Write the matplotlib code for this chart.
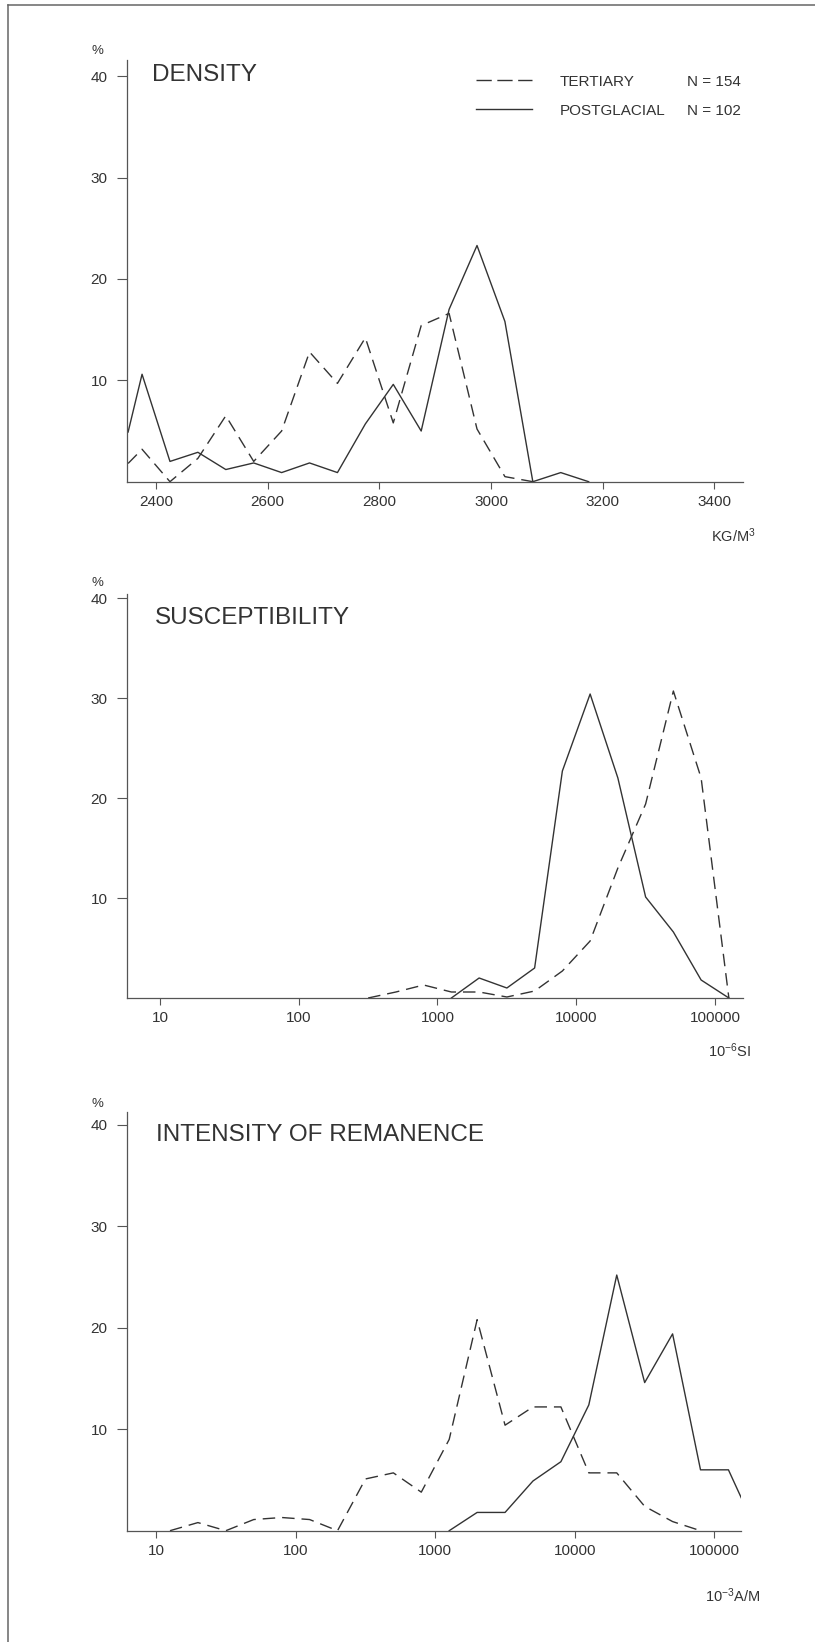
import matplotlib
matplotlib.use("Agg")
import matplotlib.pyplot as plt
from matplotlib.lines import Line2D
from matplotlib.ticker import NullLocator, FixedLocator, FixedFormatter
import numpy as np

plt.rcParams["font.family"] = ["Liberation Sans", "DejaVu Sans"]
plt.rcParams["mathtext.fontset"] = "custom"
plt.rcParams["mathtext.rm"] = "Liberation Sans"
plt.rcParams["mathtext.it"] = "Liberation Sans:italic"
plt.rcParams["mathtext.bf"] = "Liberation Sans:bold"
plt.rcParams["lines.scale_dashes"] = False

# ---------------- data ----------------
# Density (kg/m^3), class midpoints and percentages
dens_x_tert = [2350, 2375, 2425, 2475, 2525, 2575, 2625, 2675, 2725, 2775,
               2825, 2875, 2925, 2975, 3025, 3075]
dens_tert = [1.8, 3.2, 0.0, 2.3, 6.5, 2.0, 5.0, 12.8, 9.7, 14.2,
             5.8, 15.4, 16.6, 5.2, 0.5, 0.0]
dens_x_post = [2350, 2375, 2425, 2475, 2525, 2575, 2625, 2675, 2725, 2775,
               2825, 2875, 2925, 2975, 3025, 3075, 3125, 3175]
dens_post = [4.9, 10.6, 2.0, 2.9, 1.2, 1.85, 0.9, 1.85, 0.9, 5.7,
             9.6, 5.0, 17.0, 23.3, 15.8, 0.0, 0.9, 0.0]

# Susceptibility (1e-6 SI), log10 class midpoints and percentages
sus_log_tert = [2.5, 2.7, 2.9, 3.1, 3.3, 3.5, 3.7, 3.9, 4.1, 4.3, 4.5, 4.7, 4.9, 5.1]
sus_tert = [0.0, 0.6, 1.3, 0.6, 0.6, 0.1, 0.7, 2.7, 5.7, 13.0, 19.4, 30.7, 22.0, 0.0]
sus_log_post = [3.1, 3.3, 3.5, 3.7, 3.9, 4.1, 4.3, 4.5, 4.7, 4.9, 5.1]
sus_post = [0.0, 2.0, 1.0, 3.0, 22.7, 30.4, 22.0, 10.1, 6.6, 1.8, 0.0]

# Intensity of remanence (1e-3 A/m), log10 class midpoints and percentages
rem_log_tert = [1.1, 1.3, 1.5, 1.7, 1.9, 2.1, 2.3, 2.5, 2.7, 2.9,
                3.1, 3.3, 3.5, 3.7, 3.9, 4.1, 4.3, 4.5, 4.7, 4.9]
rem_tert = [0.0, 0.8, 0.0, 1.1, 1.3, 1.1, 0.0, 5.1, 5.7, 3.8,
            9.0, 20.8, 10.4, 12.2, 12.2, 5.7, 5.7, 2.4, 0.9, 0.0]
rem_log_post = [3.1, 3.3, 3.5, 3.7, 3.9, 4.1, 4.3, 4.5, 4.7, 4.9, 5.1, 5.3]
rem_post = [0.0, 1.8, 1.8, 4.9, 6.8, 12.4, 25.2, 14.6, 19.4, 6.0, 6.0, 0.0]

y_ticks = [10, 20, 30, 40]
dens_ticks = [2400, 2600, 2800, 3000, 3200, 3400]
log_ticks = [10, 100, 1000, 10000, 100000]
log_tick_labels = ["10", "100", "1000", "10000", "100000"]

series_names = ["TERTIARY", "POSTGLACIAL"]
series_n = ["N = 154", "N = 102"]

# ---------------- layout ----------------
W, H = 815, 1642
fig = plt.figure(figsize=(W / 100, H / 100), dpi=100)

INK = "#333333"
AXC = "#555555"
DASH = (9, 5)


def fx(x):
    return x / W


def fy(y):
    return 1 - y / H


def make_axes(left, right, top, bottom):
    ax = fig.add_axes([fx(left), fy(bottom), (right - left) / W, (bottom - top) / H])
    for s in ("top", "right"):
        ax.spines[s].set_visible(False)
    for s in ("left", "bottom"):
        ax.spines[s].set_color(AXC)
        ax.spines[s].set_linewidth(0.9)
    ax.set_facecolor("none")
    ax.yaxis.set_major_locator(FixedLocator(y_ticks))
    ax.tick_params(axis="y", direction="out", length=7.2, width=0.8, pad=6.5,
                   colors=AXC, labelcolor=INK, labelsize=11)
    ax.tick_params(axis="x", direction="out", length=5, width=0.8, pad=4.3,
                   colors=AXC, labelcolor=INK, labelsize=11)
    return ax


def draw_series(ax, xt, yt, xp, yp):
    ax.plot(xt, yt, color=INK, lw=1.0, linestyle=(0, DASH))
    ax.plot(xp, yp, color=INK, lw=1.0, linestyle="-")


# Panel 1: density
ax1 = make_axes(126.7, 743.3, 60, 481.7)
draw_series(ax1, dens_x_tert, dens_tert, dens_x_post, dens_post)
ax1.set_xlim(2347.5, 3452)
ax1.set_ylim(0, 41.6)
ax1.set_xticks(dens_ticks)
ax1.set_xticklabels([str(t) for t in dens_ticks])

# Panel 2: susceptibility
ax2 = make_axes(126.7, 743.3, 594, 998)
draw_series(ax2, 10 ** np.array(sus_log_tert), sus_tert,
            10 ** np.array(sus_log_post), sus_post)
ax2.set_xscale("log")
ax2.set_xlim(10 ** 0.76, 10 ** 5.204)
ax2.set_ylim(0, 40.4)

# Panel 3: remanence
ax3 = make_axes(126.7, 741, 1111.7, 1530.7)
draw_series(ax3, 10 ** np.array(rem_log_tert), rem_tert,
            10 ** np.array(rem_log_post), rem_post)
ax3.set_xscale("log")
ax3.set_xlim(10 ** 0.79, 10 ** 5.19)
ax3.set_ylim(0, 41.3)

for ax in (ax2, ax3):
    ax.xaxis.set_major_locator(FixedLocator(log_ticks))
    ax.xaxis.set_major_formatter(FixedFormatter(log_tick_labels))
    ax.xaxis.set_minor_locator(NullLocator())

for ax in (ax1, ax2, ax3):
    ax.yaxis.set_minor_locator(NullLocator())

# Panel titles
fig.text(fx(152.0), fy(80.7), "DENSITY", fontsize=17.5, color=INK, va="baseline")
fig.text(fx(154.5), fy(624.0), "SUSCEPTIBILITY", fontsize=17.5, color=INK, va="baseline")
fig.text(fx(155.5), fy(1141.0), "INTENSITY OF REMANENCE", fontsize=17.5, color=INK,
         va="baseline")

# Percent signs above the y axes
for yb in (54.3, 585.7, 1106.7):
    fig.text(fx(97.5), fy(yb), "%", fontsize=9.5, color=INK, ha="center", va="baseline")

# Unit labels
fig.text(fx(711.0), fy(541.7), "KG/M$^{3}$", fontsize=10.5, color=INK, va="baseline")
fig.text(fx(708.5), fy(1057.3), "10$^{-6}$SI", fontsize=10.5, color=INK, va="baseline")
fig.text(fx(705.0), fy(1601.7), "10$^{-3}$A/M", fontsize=10.5, color=INK, va="baseline")

# Legend
legend_rows = [(80, 86, (0, (11, 4))), (109, 115, "-")]
for (ly, tb, ls), name, n in zip(legend_rows, series_names, series_n):
    fig.add_artist(Line2D([fx(475.6), fx(532.0)], [fy(ly), fy(ly)],
                          transform=fig.transFigure, color=INK, lw=1.0, linestyle=ls))
    fig.text(fx(559.5), fy(tb), name, fontsize=11, color=INK, va="baseline")
    fig.text(fx(687.0), fy(tb), n, fontsize=11, color=INK, va="baseline")

# Page frame (top and left edges)
fig.add_artist(Line2D([fx(8), fx(815)], [fy(5), fy(5)], transform=fig.transFigure,
                      color="#666666", lw=1.1))
fig.add_artist(Line2D([fx(8), fx(8)], [fy(5), fy(1642)], transform=fig.transFigure,
                      color="#666666", lw=1.1))

fig.savefig("out.png", dpi=100, facecolor="white")
